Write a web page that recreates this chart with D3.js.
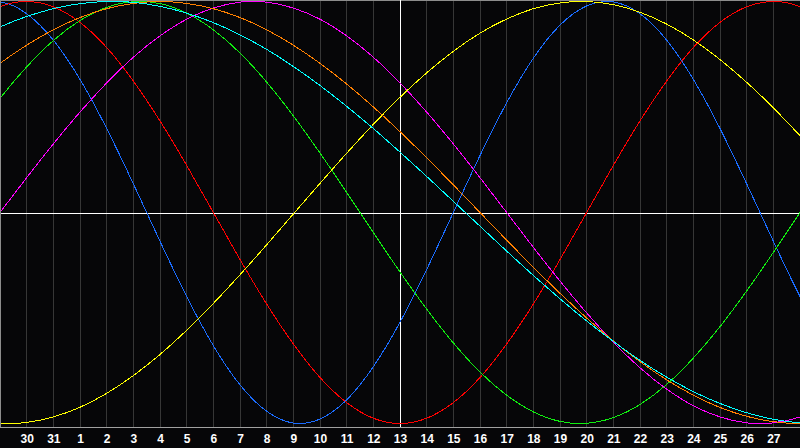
<!DOCTYPE html>
<html>
<head>
<meta charset="utf-8">
<script src="https://cdn.jsdelivr.net/npm/d3@7"></script>
<style>
  html, body { margin: 0; padding: 0; background: #060608; overflow: hidden; }
  svg { display: block; }
</style>
</head>
<body>
<svg id="chart" width="800" height="448"></svg>
<script>
// ---- Data ----
// sample days (grid index; 0 = left edge, 30 = right edge)
const sampleDays = [-1, 0, 1, 2, 3, 4, 5, 6, 7, 8, 9, 10, 11, 12, 13, 14, 15, 16, 17, 18, 19, 20, 21, 22, 23, 24, 25, 26, 27, 28, 29, 30, 31];
// tick positions (grid index) and their day labels
const tickDays = [1, 2, 3, 4, 5, 6, 7, 8, 9, 10, 11, 12, 13, 14, 15, 16, 17, 18, 19, 20, 21, 22, 23, 24, 25, 26, 27, 28, 29];
const tickLabels = ["30", "31", "1", "2", "3", "4", "5", "6", "7", "8", "9", "10", "11", "12", "13", "14", "15", "16", "17", "18", "19", "20", "21", "22", "23", "24", "25", "26", "27"];
const todayIndex = 15;

const seriesNames = ["Physical 23", "Emotional 28", "Intellectual 33", "Intuitive 38", "Aesthetic 43", "Awareness 48", "Spiritual 53"];
const seriesColors = ["#1a6cff", "#ff0000", "#10ee10", "#ff00ff", "#ffff00", "#ff8000", "#00ffff"];

const physical = [0.979, 0.998, 0.942, 0.817, 0.631, 0.398, 0.136, -0.136, -0.398, -0.631, -0.817, -0.942, -0.998, -0.979, -0.888, -0.731, -0.520, -0.270, 0, 0.270, 0.520, 0.731, 0.888, 0.979, 0.998, 0.942, 0.817, 0.631, 0.398, 0.136, -0.136, -0.398, -0.631];
const emotional = [0.901, 0.975, 1, 0.975, 0.901, 0.782, 0.623, 0.434, 0.223, 0, -0.223, -0.434, -0.623, -0.782, -0.901, -0.975, -1, -0.975, -0.901, -0.782, -0.623, -0.434, -0.223, 0, 0.223, 0.434, 0.623, 0.782, 0.901, 0.975, 1, 0.975, 0.901];
const intellectual = [0.372, 0.541, 0.690, 0.815, 0.910, 0.972, 0.999, 0.990, 0.945, 0.866, 0.756, 0.618, 0.458, 0.282, 0.095, -0.095, -0.282, -0.458, -0.618, -0.756, -0.866, -0.945, -0.990, -0.999, -0.972, -0.910, -0.815, -0.690, -0.541, -0.372, -0.189, 0, 0.189];
const intuitive = [-0.165, 0, 0.165, 0.325, 0.476, 0.614, 0.736, 0.837, 0.916, 0.969, 0.997, 0.997, 0.969, 0.916, 0.837, 0.736, 0.614, 0.476, 0.325, 0.165, 0, -0.165, -0.325, -0.476, -0.614, -0.736, -0.837, -0.916, -0.969, -0.997, -0.997, -0.969, -0.916];
const aesthetic = [-0.982, -0.999, -0.995, -0.969, -0.923, -0.857, -0.773, -0.673, -0.558, -0.431, -0.295, -0.153, -0.007, 0.138, 0.281, 0.418, 0.546, 0.662, 0.764, 0.850, 0.917, 0.966, 0.993, 1.000, 0.985, 0.949, 0.893, 0.818, 0.725, 0.617, 0.496, 0.364, 0.225];
const awareness = [0.609, 0.707, 0.793, 0.866, 0.924, 0.966, 0.991, 1, 0.991, 0.966, 0.924, 0.866, 0.793, 0.707, 0.609, 0.5, 0.383, 0.259, 0.131, 0, -0.131, -0.259, -0.383, -0.5, -0.609, -0.707, -0.793, -0.866, -0.924, -0.966, -0.991, -1, -0.991];
const spiritual = [0.816, 0.879, 0.929, 0.966, 0.990, 1.000, 0.996, 0.977, 0.945, 0.900, 0.842, 0.773, 0.692, 0.602, 0.503, 0.398, 0.286, 0.171, 0.053, -0.065, -0.183, -0.298, -0.409, -0.514, -0.611, -0.701, -0.780, -0.849, -0.905, -0.949, -0.980, -0.997, -0.999];

const seriesValues = [physical, emotional, intellectual, intuitive, aesthetic, awareness, spiritual];

// ---- Layout ----
const W = 800, H = 448;
const plotBottom = 427;

const svg = d3.select("#chart");
svg.append("rect").attr("width", W).attr("height", H).attr("fill", "#060608");

const x = d3.scaleLinear().domain([0, 30]).range([0, W]);
const y = d3.scaleLinear().domain([-1, 1]).range([423.5, 1.5]);
const px = v => Math.floor(v) + 0.5;

const grid = svg.append("g").attr("shape-rendering", "crispEdges");

// vertical day grid lines
grid.selectAll("line.day")
  .data(tickDays.filter(d => d !== todayIndex))
  .join("line")
  .attr("class", "day")
  .attr("x1", d => px(x(d))).attr("x2", d => px(x(d)))
  .attr("y1", 1).attr("y2", plotBottom)
  .attr("stroke", "#363636").attr("stroke-width", 1);

// frame: top, left, bottom
grid.append("line").attr("x1", 0).attr("x2", W).attr("y1", 0.5).attr("y2", 0.5)
  .attr("stroke", "#8c8c8c");
grid.append("line").attr("x1", 0.5).attr("x2", 0.5).attr("y1", 0).attr("y2", plotBottom)
  .attr("stroke", "#8c8c8c");

// today line and zero line
grid.append("line")
  .attr("x1", px(x(todayIndex))).attr("x2", px(x(todayIndex)))
  .attr("y1", 0).attr("y2", plotBottom)
  .attr("stroke", "#ffffff");
grid.append("line")
  .attr("x1", 1).attr("x2", W)
  .attr("y1", px(Math.round(y(0)))).attr("y2", px(Math.round(y(0))))
  .attr("stroke", "#ffffff");

// curves
const clip = svg.append("clipPath").attr("id", "plotclip")
  .append("rect").attr("x", 1).attr("y", 1).attr("width", W - 1).attr("height", plotBottom - 1);

const line = d3.line()
  .x((d, i) => x(sampleDays[i]))
  .y(d => y(d))
  .curve(d3.curveNatural);

svg.append("g")
  .attr("clip-path", "url(#plotclip)")
  .selectAll("path")
  .data(seriesValues)
  .join("path")
  .attr("d", d => line(d))
  .attr("fill", "none")
  .attr("stroke", (d, i) => seriesColors[i])
  .attr("stroke-width", 1)
  .attr("shape-rendering", "crispEdges")
  .append("title").text((d, i) => seriesNames[i]);

// bottom axis
const axis = d3.axisBottom(x)
  .tickValues(tickDays)
  .tickSize(0)
  .tickPadding(0)
  .tickFormat((d, i) => tickLabels[i]);

const ax = svg.append("g")
  .attr("transform", `translate(0,${plotBottom + 0.5})`)
  .call(axis);
ax.select(".domain")
  .attr("d", `M0,0H${W}`)
  .attr("stroke", "#a0a0a0")
  .attr("shape-rendering", "crispEdges");
ax.selectAll(".tick text")
  .attr("y", 15.5)
  .attr("dy", 0)
  .attr("fill", "#ffffff")
  .attr("font-family", "'Liberation Sans', Arial, sans-serif")
  .attr("font-weight", "bold")
  .attr("font-size", 12);
</script>
</body>
</html>
